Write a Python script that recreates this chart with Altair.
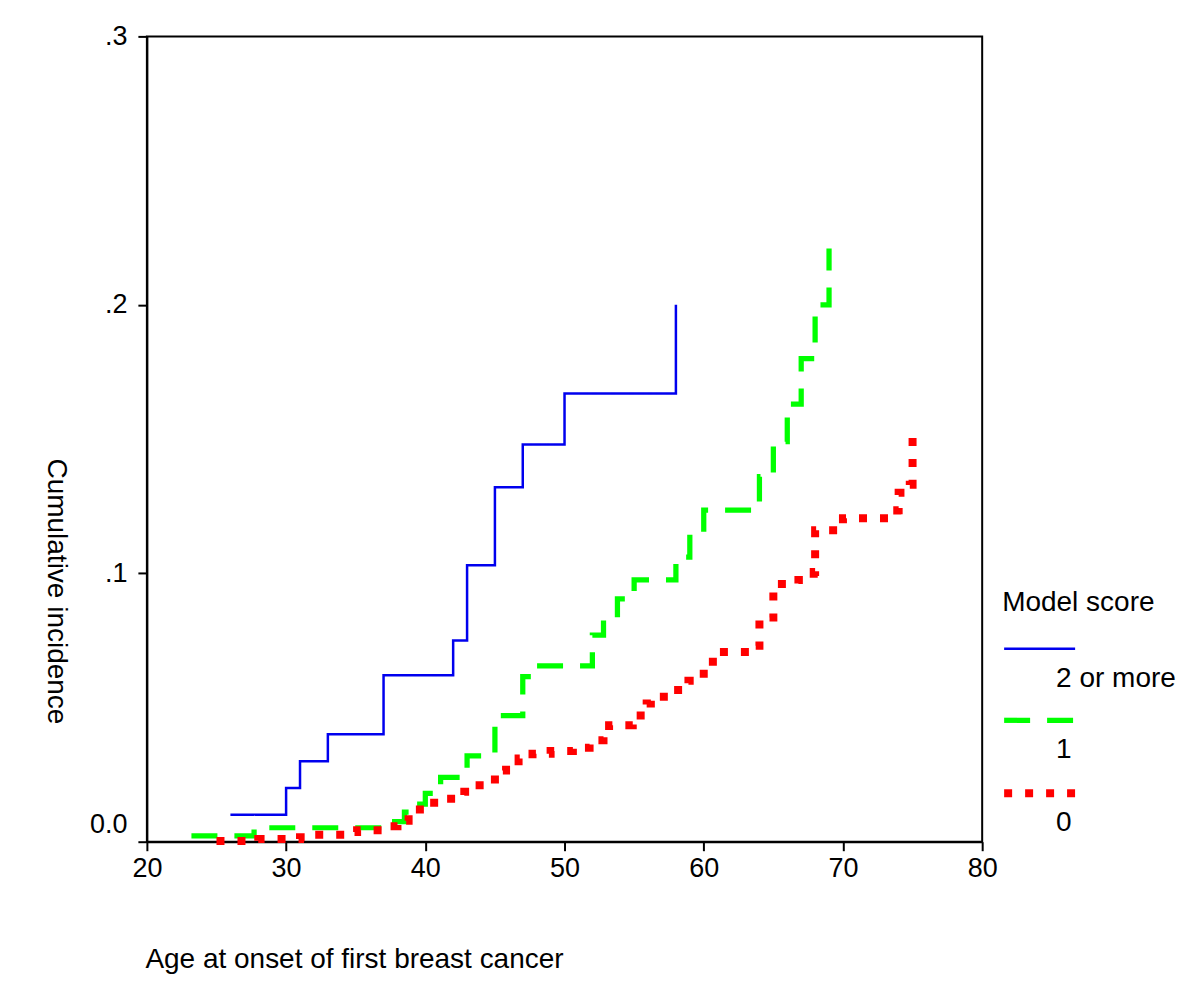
import altair as alt
import pandas as pd

# ---- data ----
groups = ["2 or more", "1", "0"]
group_colors = ["#0000ee", "#00ff00", "#ff0000"]

age_2plus = [26, 30, 31, 33, 37, 42, 43, 45, 47, 50, 58]
ci_2plus = [0.010, 0.020, 0.030, 0.040, 0.062, 0.075, 0.103, 0.132, 0.148, 0.167, 0.200]

age_1 = [23.2, 27.7, 37.5, 38.5, 39.6, 40.0, 40.6, 41.1, 43.0, 45.0, 47.0, 47.6,
         52.0, 52.8, 53.8, 55.0, 58.0, 59.0, 60.0, 64.0, 65.0, 66.0, 67.0, 68.0, 69.0]
ci_1 = [0.0022, 0.0052, 0.0075, 0.011, 0.014, 0.018, 0.021, 0.024, 0.032, 0.047, 0.0615, 0.0655,
        0.077, 0.0835, 0.0905, 0.0975, 0.106, 0.115, 0.1235, 0.136, 0.149, 0.163, 0.180, 0.200, 0.221]

age_0 = [25.0, 28.0, 31.0, 32.0, 34.7, 35.1, 37.0, 38.0, 38.8, 39.2, 40.0, 41.5, 42.8,
         43.9, 45.0, 45.8, 46.7, 47.7, 49.0, 50.6, 51.8, 52.8, 53.2, 54.9, 55.9, 56.2,
         57.7, 58.9, 60.0, 61.0, 63.7, 64.0, 65.0, 66.8, 67.9, 68.0, 70.0, 73.9, 74.0,
         74.8, 75.0]
ci_0 = [0.0003, 0.0010, 0.0017, 0.0026, 0.0036, 0.0043, 0.0058, 0.0078, 0.0100, 0.0120,
        0.0145, 0.0160, 0.0186, 0.0210, 0.0265, 0.0283, 0.0310, 0.0328, 0.0338, 0.0350,
        0.0378, 0.0410, 0.0434, 0.0470, 0.0515, 0.0540, 0.0565, 0.0600, 0.0670, 0.0707,
        0.0730, 0.0835, 0.0960, 0.0975, 0.1005, 0.1160, 0.1205, 0.1235, 0.1300, 0.1330,
        0.1530]

x_ticks = [20, 30, 40, 50, 60, 70, 80]
y_ticks = [0.0, 0.1, 0.2, 0.3]

rows = []
for g, ages, vals in [(groups[0], age_2plus, ci_2plus), (groups[1], age_1, ci_1), (groups[2], age_0, ci_0)]:
    for a, v in zip(ages, vals):
        rows.append({"Model score": g, "age": a, "ci": v})
df = pd.DataFrame(rows)

FONT = "Liberation Sans"

legend = alt.Legend(
    title="Model score",
    orient="none",
    legendX=856,
    legendY=553,
    padding=0,
    symbolType="M-1.45,0H1.45",
    symbolSize=2401,
    symbolOffset=9,
    labelExpr="['', datum.label]",
    labelBaseline="middle",
    labelOffset={"expr": "-12"},
    labelFont=FONT,
    labelFontSize=28,
    labelColor="black",
    titleFont=FONT,
    titleFontSize=28,
    titleFontWeight="normal",
    titleColor="black",
    titlePadding=6,
    rowPadding=0,
    labelLimit=300,
)

chart = alt.Chart(df).mark_line(interpolate="step-after").encode(
    x=alt.X(
        "age:Q",
        scale=alt.Scale(domain=[20, 80], nice=False, zero=False),
        axis=alt.Axis(
            values=x_ticks,
            title="Age at onset of first breast cancer",
            titleX=-2,
            titleY=126,
            titleAlign="left",
            titleAnchor="start",
            titleBaseline="alphabetic",
            titleFont=FONT,
            titleFontSize=28,
            titleFontWeight="normal",
            titleColor="black",
            labelFont=FONT,
            labelFontSize=27,
            labelColor="black",
            labelFlush=False,
            labelPadding=5,
            tickSize=9,
            tickWidth=2,
            tickColor="black",
            domainColor="black",
            domainWidth=2,
            grid=False,
        ),
    ),
    y=alt.Y(
        "ci:Q",
        scale=alt.Scale(domain=[0, 0.3], nice=False, zero=False),
        axis=alt.Axis(
            values=y_ticks,
            labelExpr="datum.value == 0 ? '0.0' : '.' + format(datum.value * 10, 'd')",
            labelBaseline={"condition": {"test": "datum.value == 0", "value": "bottom"}, "value": "middle"},
            labelOffset={"condition": {"test": "datum.value == 0", "value": -3}, "value": 0},
            title="Cumulative incidence",
            titleAngle=90,
            titleX=-91,
            titleY=555,
            titleAlign="center",
            titleBaseline="middle",
            titleFont=FONT,
            titleFontSize=28,
            titleFontWeight="normal",
            titleColor="black",
            labelFont=FONT,
            labelFontSize=27,
            labelColor="black",
            labelFlush=False,
            labelPadding=11,
            tickSize=9,
            tickWidth=2,
            tickColor="black",
            domainColor="black",
            domainWidth=2,
            grid=False,
        ),
    ),
    color=alt.Color("Model score:N", scale=alt.Scale(domain=groups, range=group_colors), legend=legend),
    strokeDash=alt.StrokeDash(
        "Model score:N",
        scale=alt.Scale(domain=groups, range=[[1, 0], [26, 17], [8, 13]]),
        legend=legend,
    ),
    strokeWidth=alt.StrokeWidth(
        "Model score:N",
        scale=alt.Scale(domain=groups, range=[2.5, 8, 8]),
        legend=legend,
    ),
).properties(
    width=836,
    height=806,
    background="white",
    padding={"left": 139, "top": 28, "right": 210, "bottom": 140},
    autosize=alt.AutoSizeParams(type="none"),
).configure_view(
    stroke="black",
    strokeWidth=2,
)

chart.save("out.html", embed_options={"renderer": "svg", "actions": False})
